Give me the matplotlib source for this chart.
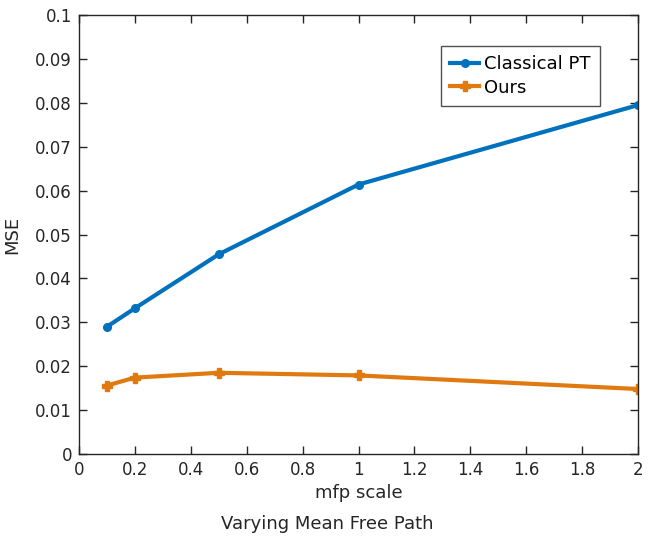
import matplotlib.pyplot as plt

# mean free path scale vs. error
mfp_scale = [0.1, 0.2, 0.5, 1.0, 2.0]
mse_classical = [0.0290, 0.0332, 0.0455, 0.0614, 0.0795]
mse_ours = [0.0156, 0.0174, 0.0185, 0.0179, 0.0148]

blue = '#0072BD'
orange = '#E07A10'

fig = plt.figure(figsize=(6.55, 5.4), dpi=100)
ax = fig.add_axes([0.1206, 0.1593, 0.8535, 0.8127])

ax.plot(mfp_scale, mse_classical, color=blue, lw=3, marker='o', ms=5.5,
        label='Classical PT')
ax.plot(mfp_scale, mse_ours, color=orange, lw=3, marker='P', ms=6.5,
        label='Ours')

ax.set_xlim(0, 2)
ax.set_ylim(0, 0.1)
ax.set_xticks([i * 0.2 for i in range(11)])
ax.set_xticklabels(['0', '0.2', '0.4', '0.6', '0.8', '1', '1.2', '1.4', '1.6', '1.8', '2'])
ax.set_yticks([i * 0.01 for i in range(11)])
ax.set_yticklabels(['0'] + ['0.0%d' % i for i in range(1, 10)] + ['0.1'])
ax.tick_params(direction='in', top=True, right=True, labelsize=12, length=6,
               width=1, color='#262626', labelcolor='#262626', pad=5)
for s in ax.spines.values():
    s.set_color('#262626')
    s.set_linewidth(1)

ax.set_xlabel('mfp scale', fontsize=13, color='#262626', labelpad=4)
ax.set_ylabel('MSE', fontsize=13, color='#262626', labelpad=10)

leg = ax.legend(loc='upper right', bbox_to_anchor=(0.932, 0.929), fontsize=13,
                frameon=True, fancybox=False, edgecolor='#262626',
                handlelength=1.6, handletextpad=0.3, borderpad=0.5,
                labelspacing=0.3, borderaxespad=0)
leg.get_frame().set_linewidth(1)

fig.text(0.5, 0.03, 'Varying Mean Free Path', ha='center', va='center',
         fontsize=13, color='#262626')

fig.savefig('out.png', dpi=100)
